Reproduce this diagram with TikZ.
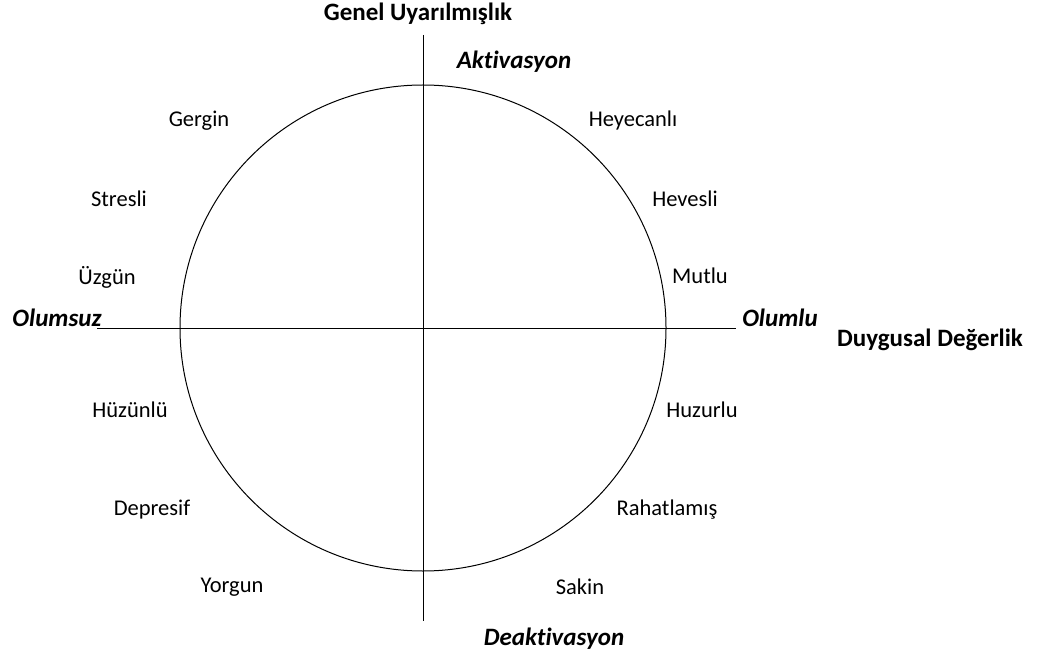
\documentclass[tikz,border=0pt]{standalone}
\usepackage{fontspec}
\setmainfont{Carlito}[Ligatures=NoCommon]
\usepackage{tikz}
\usetikzlibrary{calc}
\begin{document}
\begin{tikzpicture}[x=1pt,y=-1pt]
\tikzstyle{mood}=[inner sep=0pt,font=\fontsize{22.5}{26}\selectfont]
\tikzstyle{axis}=[inner sep=0pt,font=\fontsize{25}{29}\selectfont\bfseries\itshape]
\tikzstyle{title}=[inner sep=0pt,font=\fontsize{25}{29}\selectfont\bfseries]
\useasboundingbox (0,0) rectangle (1041,660);
\coordinate (c) at (423,328);
\coordinate (top) at (423,35);
\coordinate (bottom) at (423,621);
\coordinate (left) at (97,328);
\coordinate (right) at (736,328);
\draw[line width=1pt] (c) circle (243);
\draw[line width=1pt] (top) -- (bottom);
\draw[line width=1pt] (left) -- (right);
\foreach \name/\point/\txt in {
	heyecanli/{633,121}/Heyecanlı,
	hevesli/{685,199}/Hevesli,
	mutlu/{700,276}/Mutlu,
	gergin/{199,121}/Gergin,
	stresli/{119,199}/Stresli,
	uzgun/{107,277}/Üzgün,
	huzunlu/{130,410}/Hüzünlü,
	huzurlu/{702,410}/Huzurlu,
	depresif/{152,510}/Depresif,
	rahatlamis/{667,510}/Rahatlamış,
	yorgun/{232,587}/Yorgun,
	sakin/{580,587}/Sakin}
	\node[mood] (\name) at (\point) {\txt};
\node[axis] (aktivasyon) at (514,62) {Aktivasyon};
\node[axis] (deaktivasyon) at (554,639) {Deaktivasyon};
\node[axis] (olumsuz) at (57,318) {Olumsuz};
\node[axis] (olumlu) at (780,318) {Olumlu};
\node[title] (uyarilmislik) at (418,14) {Genel Uyarılmışlık};
\node[title] (degerlik) at (930,340) {Duygusal Değerlik};
\end{tikzpicture}
\end{document}
